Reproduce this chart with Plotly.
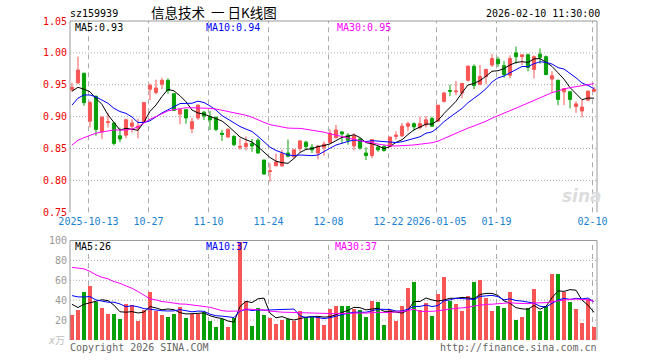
import plotly.graph_objects as go
import pandas as pd

# ---------------- data ----------------
dates = (["2025-09-30", "2025-10-09", "2025-10-10",
          "2025-10-13", "2025-10-14", "2025-10-15", "2025-10-16", "2025-10-17",
          "2025-10-20", "2025-10-21", "2025-10-22", "2025-10-23", "2025-10-24",
          "2025-10-27", "2025-10-28", "2025-10-29", "2025-10-30", "2025-10-31",
          "2025-11-03", "2025-11-04", "2025-11-05", "2025-11-06", "2025-11-07",
          "2025-11-10", "2025-11-11", "2025-11-12", "2025-11-13", "2025-11-14",
          "2025-11-17", "2025-11-18", "2025-11-19", "2025-11-20", "2025-11-21",
          "2025-11-24", "2025-11-25", "2025-11-26", "2025-11-27", "2025-11-28",
          "2025-12-01", "2025-12-02", "2025-12-03", "2025-12-04", "2025-12-05",
          "2025-12-08", "2025-12-09", "2025-12-10", "2025-12-11", "2025-12-12",
          "2025-12-15", "2025-12-16", "2025-12-17", "2025-12-18", "2025-12-19",
          "2025-12-22", "2025-12-23", "2025-12-24", "2025-12-25", "2025-12-26",
          "2025-12-29", "2025-12-30", "2025-12-31",
          "2026-01-05", "2026-01-06", "2026-01-07", "2026-01-08", "2026-01-09",
          "2026-01-12", "2026-01-13", "2026-01-14", "2026-01-15", "2026-01-16",
          "2026-01-19", "2026-01-20", "2026-01-21", "2026-01-22", "2026-01-23",
          "2026-01-26", "2026-01-27", "2026-01-28", "2026-01-29", "2026-01-30",
          "2026-02-02", "2026-02-03", "2026-02-04", "2026-02-05", "2026-02-06",
          "2026-02-09", "2026-02-10"])

opens = [0.942, 0.953, 0.968, 0.893, 0.932, 0.876, 0.891, 0.890, 0.870, 0.871,
         0.885, 0.882, 0.891, 0.943, 0.938, 0.951, 0.957, 0.936, 0.904, 0.911,
         0.881, 0.898, 0.907, 0.900, 0.899, 0.874, 0.868, 0.869, 0.852, 0.853,
         0.858, 0.863, 0.832, 0.814, 0.823, 0.823, 0.843, 0.837, 0.850, 0.860,
         0.852, 0.843, 0.852, 0.859, 0.867, 0.876, 0.871, 0.854, 0.865, 0.843,
         0.839, 0.852, 0.853, 0.853, 0.869, 0.870, 0.885, 0.889, 0.883, 0.887,
         0.897, 0.893, 0.924, 0.941, 0.939, 0.937, 0.957, 0.979, 0.951, 0.963,
         0.981, 0.990, 0.980, 0.965, 1.000, 0.994, 0.997, 0.974, 0.998, 0.994,
         0.959, 0.957, 0.939, 0.939, 0.916, 0.909, 0.926, 0.940]
highs = [0.953, 0.994, 0.969, 0.925, 0.933, 0.901, 0.906, 0.891, 0.883, 0.897,
         0.896, 0.897, 0.923, 0.952, 0.958, 0.961, 0.960, 0.937, 0.912, 0.912,
         0.898, 0.919, 0.909, 0.909, 0.900, 0.879, 0.882, 0.871, 0.866, 0.869,
         0.865, 0.866, 0.832, 0.827, 0.842, 0.848, 0.864, 0.849, 0.863, 0.862,
         0.857, 0.855, 0.861, 0.880, 0.887, 0.877, 0.874, 0.874, 0.866, 0.852,
         0.864, 0.854, 0.856, 0.868, 0.877, 0.890, 0.892, 0.891, 0.900, 0.901,
         0.900, 0.918, 0.939, 0.950, 0.956, 0.953, 0.981, 0.982, 0.981, 0.975,
         0.998, 0.994, 0.987, 0.996, 1.010, 0.997, 0.999, 0.996, 1.007, 0.996,
         0.971, 0.958, 0.945, 0.940, 0.924, 0.926, 0.941, 0.947]
lows = [0.939, 0.951, 0.917, 0.883, 0.870, 0.865, 0.883, 0.855, 0.860, 0.866,
        0.875, 0.866, 0.890, 0.926, 0.935, 0.943, 0.936, 0.909, 0.888, 0.889,
        0.874, 0.895, 0.895, 0.879, 0.877, 0.862, 0.867, 0.854, 0.848, 0.847,
        0.845, 0.842, 0.809, 0.798, 0.822, 0.821, 0.836, 0.835, 0.845, 0.848,
        0.843, 0.833, 0.839, 0.858, 0.866, 0.858, 0.856, 0.847, 0.848, 0.832,
        0.835, 0.845, 0.845, 0.852, 0.864, 0.868, 0.877, 0.878, 0.880, 0.883,
        0.884, 0.892, 0.922, 0.932, 0.934, 0.929, 0.955, 0.943, 0.949, 0.951,
        0.978, 0.978, 0.961, 0.960, 0.983, 0.981, 0.971, 0.960, 0.983, 0.965,
        0.937, 0.918, 0.918, 0.913, 0.906, 0.899, 0.924, 0.938]
closes = [0.946, 0.973, 0.922, 0.922, 0.880, 0.899, 0.892, 0.858, 0.865, 0.895,
          0.890, 0.885, 0.922, 0.949, 0.945, 0.957, 0.941, 0.910, 0.911, 0.898,
          0.892, 0.918, 0.901, 0.895, 0.880, 0.872, 0.880, 0.856, 0.853, 0.858,
          0.854, 0.843, 0.810, 0.815, 0.829, 0.842, 0.838, 0.848, 0.862, 0.853,
          0.848, 0.854, 0.857, 0.874, 0.879, 0.873, 0.863, 0.870, 0.851, 0.839,
          0.864, 0.848, 0.847, 0.868, 0.871, 0.885, 0.889, 0.884, 0.889, 0.895,
          0.885, 0.918, 0.937, 0.940, 0.940, 0.952, 0.979, 0.949, 0.963, 0.974,
          0.991, 0.983, 0.966, 0.991, 0.994, 0.997, 0.977, 0.994, 0.993, 0.966,
          0.964, 0.927, 0.944, 0.927, 0.920, 0.915, 0.940, 0.943]
volumes = [24.7, 29.7, 48.7, 54.0, 37.7, 32.0, 25.7, 25.7, 20.7, 35.7,
           34.7, 19.0, 30.0, 48.5, 29.0, 25.0, 23.5, 26.5, 33.5, 22.5,
           26.0, 26.0, 28.0, 19.5, 13.5, 21.0, 13.5, 22.0, 98.5, 39.5,
           14.5, 32.5, 25.5, 22.5, 16.5, 20.5, 21.5, 19.5, 29.5, 23.5,
           23.5, 23.0, 15.5, 31.5, 34.0, 34.0, 34.0, 30.7, 29.7, 23.0,
           38.7, 37.7, 15.0, 29.7, 19.0, 34.0, 52.0, 58.7, 29.7, 36.7,
           24.0, 46.7, 63.7, 38.7, 36.0, 29.0, 44.7, 58.7, 60.0, 42.0,
           29.0, 34.0, 31.7, 48.0, 19.7, 23.0, 32.0, 51.0, 29.0, 33.7,
           66.7, 66.7, 48.3, 37.7, 30.7, 17.0, 41.3, 12.7]

# moving-average values before enough history is visible
ma5_head = [0.940, 0.946, 0.943, 0.939]
ma10_head = [0.918, 0.929, 0.934, 0.934, 0.931, 0.926, 0.921, 0.913, 0.908]
ma30_head = [0.8555, 0.863, 0.867, 0.871, 0.874, 0.876, 0.878, 0.879, 0.879,
             0.879, 0.8805, 0.884, 0.890, 0.896, 0.900, 0.905, 0.909, 0.911,
             0.913, 0.914, 0.914, 0.914, 0.914, 0.913, 0.912, 0.910, 0.909,
             0.907, 0.905]
vma5_head = [35.9, 32.6, 35.9, 37.6]
vma10_head = [44.6, 43.3, 43.3, 43.6, 40.3, 39.3, 38.0, 38.0, 36.2]
vma30_head = [73.0, 72.0, 71.5, 69.0, 65.5, 63.0, 61.5, 58.7, 57.0, 54.4,
              52.0, 48.7, 44.6, 41.3, 40.3, 38.6, 38.0, 37.0, 36.2, 36.0,
              35.2, 34.6, 33.6, 32.9, 31.2, 29.5, 28.9, 28.9, 29.2]

tick_dates = ["2025-10-13", "2025-10-27", "2025-11-10", "2025-11-24", "2025-12-08",
              "2025-12-22", "2026-01-05", "2026-01-19", "2026-02-10"]
tick_labels = ["2025-10-13", "10-27", "11-10", "11-24", "12-08",
               "12-22", "2026-01-05", "01-19", "02-10"]
price_ticks = [0.75, 0.80, 0.85, 0.90, 0.95, 1.00, 1.05]
vol_ticks = [20, 40, 60, 80, 100]

# ---------------- helpers ----------------
RED = "#f85555"
GREEN = "#08a008"
MONO = "DejaVu Sans Mono"


def moving_avg(values, n, head):
    s = pd.Series(values).rolling(n).mean().tolist()
    s[:n - 1] = head
    return s


x = list(range(len(dates)))
tick_x = [dates.index(d) - 0.25 for d in tick_dates]

W, H = 660, 360
L, R, T, B = 70, 63, 21, 20
PW, PH = W - L - R, H - T - B


def px(xp, yp):
    return (xp - L) / PW, (H - B - yp) / PH


price_dom = [(H - B - 212.3) / PH, 1.0]
vol_dom = [0.0, (H - B - 240.5) / PH]

fig = go.Figure()

fig.add_trace(go.Candlestick(
    x=x, open=opens, high=highs, low=lows, close=closes,
    increasing=dict(line=dict(color=RED, width=1), fillcolor=RED),
    decreasing=dict(line=dict(color=GREEN, width=1), fillcolor=GREEN),
    whiskerwidth=0, xaxis="x", yaxis="y", hoverinfo="skip"))

for vals, n, head, col in [(closes, 5, ma5_head, "#000000"),
                           (closes, 10, ma10_head, "#0000ff"),
                           (closes, 30, ma30_head, "#ff00ff")]:
    fig.add_trace(go.Scatter(x=x, y=moving_avg(vals, n, head), mode="lines",
                             line=dict(color=col, width=1),
                             xaxis="x", yaxis="y", hoverinfo="skip"))

vol_colors = [RED if c >= o else GREEN for o, c in zip(opens, closes)]
fig.add_trace(go.Bar(x=x, y=volumes, marker=dict(color=vol_colors, line=dict(width=0)),
                     width=0.82, xaxis="x2", yaxis="y2", hoverinfo="skip"))

for vals, n, head, col in [(volumes, 5, vma5_head, "#000000"),
                           (volumes, 10, vma10_head, "#0000ff"),
                           (volumes, 30, vma30_head, "#ff00ff")]:
    fig.add_trace(go.Scatter(x=x, y=moving_avg(vals, n, head), mode="lines",
                             line=dict(color=col, width=1),
                             xaxis="x2", yaxis="y2", hoverinfo="skip"))

xr = [-0.33, 87.5]
fig.update_layout(
    width=W, height=H, margin=dict(l=L, r=R, t=T, b=B, autoexpand=False),
    paper_bgcolor="white", plot_bgcolor="white", showlegend=False,
    bargap=0, boxgap=0.25,
    xaxis=dict(domain=[0, 1], range=xr, anchor="y", tickvals=tick_x, ticktext=tick_labels,
               tickfont=dict(family=MONO, size=10, color="#1a7fd0"), ticks="", ticklabelstandoff=2,
               showgrid=False, zeroline=False, showline=False,
               rangeslider=dict(visible=False), fixedrange=True),
    yaxis=dict(domain=price_dom, range=[0.75, 1.05], tickvals=price_ticks,
               ticktext=["%.2f" % v for v in price_ticks],
               tickfont=dict(family=MONO, size=10, color="#ee0000"), ticks="",
               ticklabelstandoff=2, showgrid=False, zeroline=False, showline=False),
    xaxis2=dict(domain=[0, 1], range=xr, anchor="y2", showticklabels=False, ticks="",
                showgrid=False, zeroline=False, showline=False),
    yaxis2=dict(domain=vol_dom, range=[0, 100], tickvals=vol_ticks,
                ticktext=[str(v) for v in vol_ticks],
                tickfont=dict(family=MONO, size=10, color="#999999"), ticks="",
                ticklabelstandoff=2, showgrid=False, zeroline=False, showline=False),
)

shapes = []
GRID = "#aaaaaa"
for v in price_ticks[1:-1]:
    shapes.append(dict(type="line", xref="x domain", yref="y", x0=0, x1=1, y0=v, y1=v,
                       line=dict(color=GRID, width=1, dash="1px,2px"), layer="below"))
for v in vol_ticks[:-1]:
    shapes.append(dict(type="line", xref="x2 domain", yref="y2", x0=0, x1=1, y0=v, y1=v,
                       line=dict(color=GRID, width=1, dash="1px,2px"), layer="below"))
for tx in tick_x:
    shapes.append(dict(type="line", xref="x", yref="y domain", x0=tx, x1=tx, y0=0, y1=1,
                       line=dict(color=GRID, width=1, dash="5px,4px"), layer="below"))
    shapes.append(dict(type="line", xref="x2", yref="y2 domain", x0=tx, x1=tx, y0=0, y1=1,
                       line=dict(color=GRID, width=1, dash="5px,4px"), layer="below"))
FRAME = "#999999"
for ax in ["", "2"]:
    xd, yd = "x%s domain" % ax, "y%s domain" % ax
    shapes.append(dict(type="line", xref=xd, yref=yd, x0=0, x1=1, y0=1, y1=1,
                       line=dict(color=FRAME, width=1)))
    shapes.append(dict(type="line", xref=xd, yref=yd, x0=0, x1=0, y0=0, y1=1,
                       line=dict(color=FRAME, width=1)))
    shapes.append(dict(type="line", xref=xd, yref=yd, x0=1, x1=1, y0=0, y1=1,
                       line=dict(color=FRAME, width=1)))
fig.update_layout(shapes=shapes)


def note(text, xp, yp, color="#000000", size=10, anchor="left", family=MONO):
    ax_, ay_ = px(xp, yp)
    fig.add_annotation(text=text, x=ax_, y=ay_, xref="paper", yref="paper",
                       xanchor=anchor, yanchor="middle", showarrow=False, borderpad=0,
                       font=dict(family=family, size=size, color=color))


note("sz159939", 69, 13)
note("信息技术\u00a0\u00a0一\u00a0日K线图", 150, 12, size=13.5, family="Noto Sans CJK SC")
note("2026-02-10 11:30:00", 601, 13, anchor="right")
note("MA5:0.93", 74, 27.5)
note("MA10:0.94", 205, 27.5, color="#0000ff")
note("MA30:0.95", 336, 27.5, color="#ff00ff")
note("MA5:26", 74, 247)
note("MA10:37", 205, 247, color="#0000ff")
note("MA30:37", 334, 247, color="#ff00ff")
note("<i>x</i>万", 47, 341, color="#c0c0c0", family="DejaVu Sans Mono, Noto Sans CJK SC")
note("Copyright 2026 SINA.COM", 69, 347, color="#666666")
note("http://finance.sina.com.cn", 598, 347, color="#666666", anchor="right")
note("<b><i>sina</i></b>", 582, 196, color="#dddddd", size=17, anchor="center",
     family="DejaVu Sans")

fig.write_html("out.html", config={"displayModeBar": False, "staticPlot": True},
               post_script="document.body.style.margin='0';document.body.style.overflow='hidden';")
